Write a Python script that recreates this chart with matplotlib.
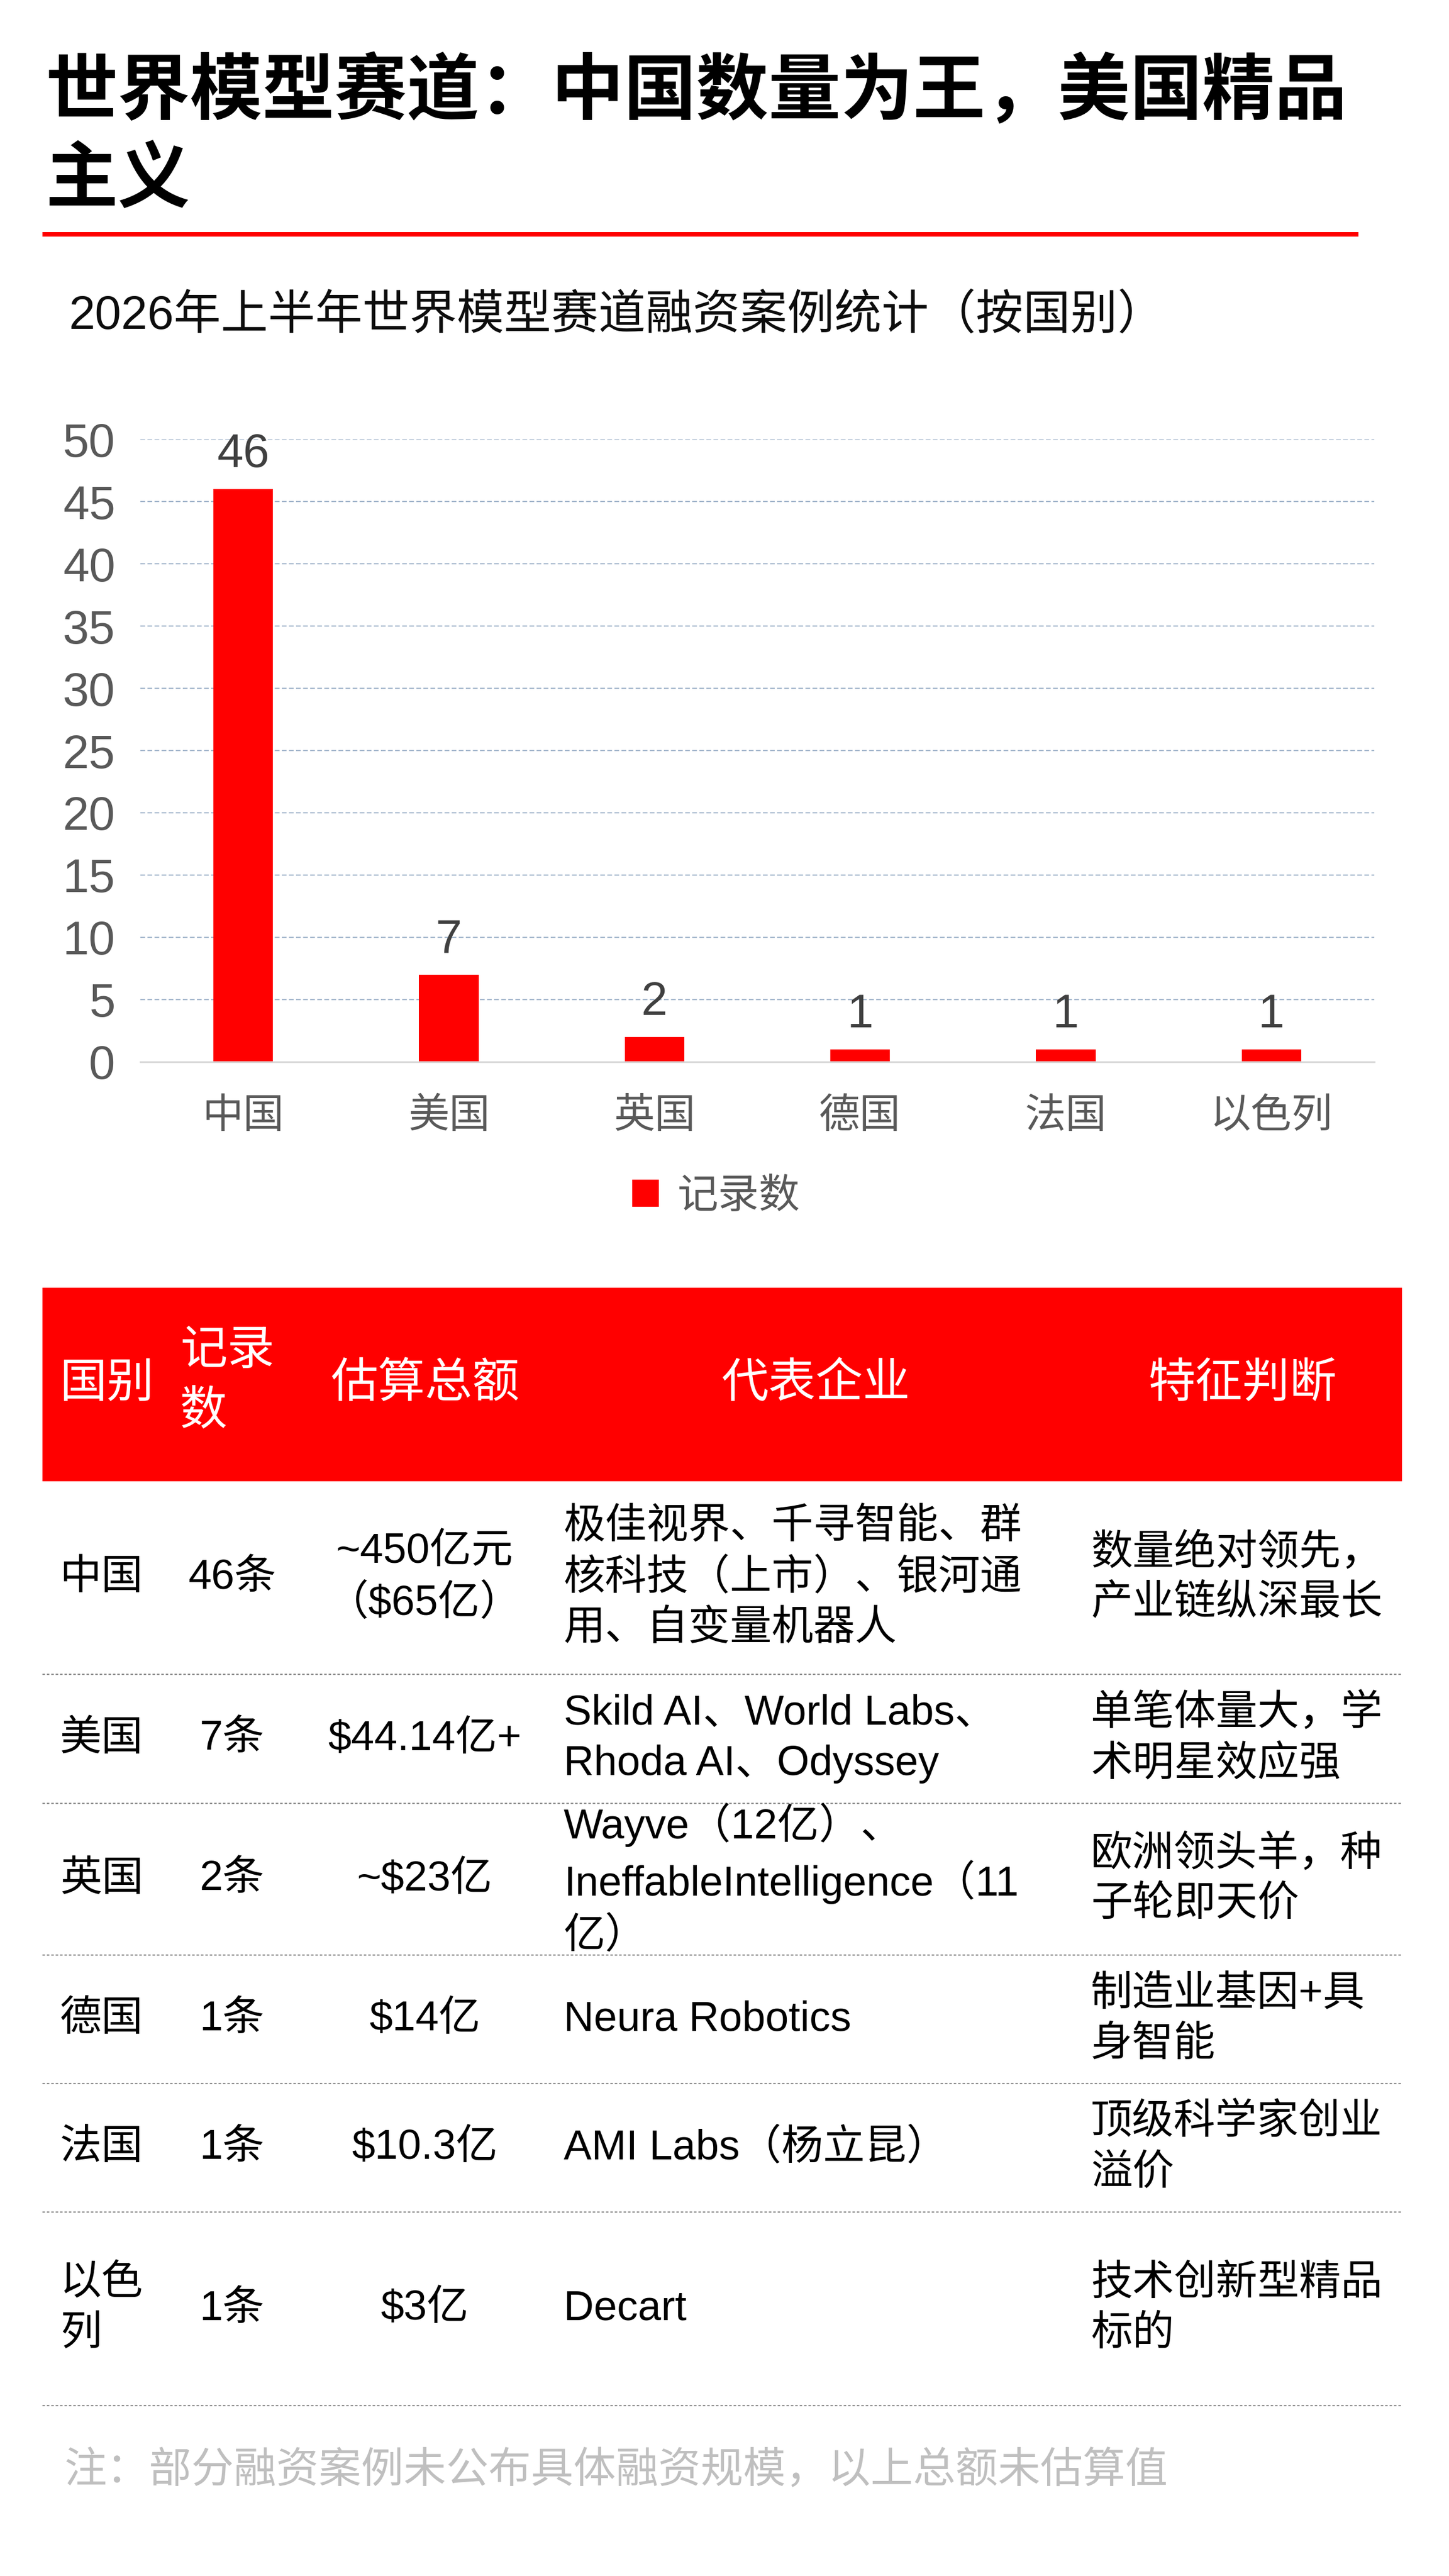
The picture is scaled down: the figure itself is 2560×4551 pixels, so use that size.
import matplotlib
matplotlib.use("Agg")
import matplotlib.pyplot as plt
from matplotlib.patches import Rectangle

plt.rcParams['font.family'] = ['Liberation Sans', 'Noto Sans CJK SC', 'DejaVu Sans']

# ---- data ----
countries = ['中国', '美国', '英国', '德国', '法国', '以色列']
counts = [46, 7, 2, 1, 1, 1]

table_header = ['国别', '记录\n数', '估算总额', '代表企业', '特征判断']
col_country = ['中国', '美国', '英国', '德国', '法国', '以色\n列']
col_records = ['46条', '7条', '2条', '1条', '1条', '1条']
col_amount = ['~450亿元\n（$65亿）', '$44.14亿+', '~$23亿', '$14亿', '$10.3亿', '$3亿']
col_companies = ['极佳视界、千寻智能、群\n核科技（上市）、银河通\n用、自变量机器人',
                 'Skild AI、World Labs、\nRhoda AI、Odyssey',
                 'Wayve（12亿）、\nIneffableIntelligence（11\n亿）',
                 'Neura Robotics',
                 'AMI Labs（杨立昆）',
                 'Decart']
col_traits = ['数量绝对领先，\n产业链纵深最长',
              '单笔体量大，学\n术明星效应强',
              '欧洲领头羊，种\n子轮即天价',
              '制造业基因+具\n身智能',
              '顶级科学家创业\n溢价',
              '技术创新型精品\n标的']

title = '世界模型赛道：中国数量为王，美国精品\n主义'
subtitle = '2026年上半年世界模型赛道融资案例统计（按国别）'
footnote = '注：部分融资案例未公布具体融资规模，以上总额未估算值'

RED = '#FF0000'
W, H = 2560, 4551

fig = plt.figure(figsize=(W / 100, H / 100), dpi=100)
fig.patch.set_facecolor('white')

# full-page layer in pixel coordinates
bg = fig.add_axes([0, 0, 1, 1])
bg.set_xlim(0, W)
bg.set_ylim(H, 0)
bg.axis('off')

bg.text(80, 242, title, fontsize=92, fontweight='heavy', color='black',
        ha='left', va='center', linespacing=1.37)
bg.add_patch(Rectangle((75, 410), 2325, 8, color=RED, lw=0))
bg.text(122, 558, subtitle, fontsize=60, color='#0D0D0D', ha='left', va='center')

# ---- bar chart ----
ax = fig.add_axes([248 / W, 1 - 1876 / H, 2180 / W, 1100 / H])
bars = ax.bar(range(len(countries)), counts, width=0.29, color=RED, label='记录数', zorder=3)
ax.set_xlim(-0.5, len(countries) - 0.5)
ax.set_ylim(0, 50)
ax.set_yticks(range(0, 51, 5))
ax.set_xticks(range(len(countries)))
ax.set_xticklabels(countries)
ax.tick_params(axis='y', length=0, pad=32, labelsize=60, labelcolor='#595959')
ax.tick_params(axis='x', length=0, pad=46, labelsize=52, labelcolor='#595959')
ax.yaxis.grid(True, linestyle=(0, (4, 2)), color='#A3B6CC', linewidth=1.5, zorder=0)
ax.set_axisbelow(True)
for s in ['top', 'right', 'left']:
    ax.spines[s].set_visible(False)
ax.spines['bottom'].set_color('#D9D9D9')
ax.spines['bottom'].set_linewidth(2.2)
ax.spines['bottom'].set_zorder(4)
ax.bar_label(bars, padding=16, fontsize=60, color='#404040')

fig.legend(handles=[bars], labels=['记录数'], loc='center',
           bbox_to_anchor=(1265 / W, 1 - 2115 / H), frameon=False,
           fontsize=52, labelcolor='#595959', handlelength=0.65,
           handleheight=0.65, handletextpad=0.45)

# ---- table ----
bg.add_patch(Rectangle((75, 2275), 2402, 342, color=RED, lw=0))
head_y = 2446
bg.text(106, head_y, table_header[0], fontsize=60, color='white', ha='left', va='center')
bg.text(318, head_y - 5, table_header[1], fontsize=60, color='white', ha='left', va='center',
        linespacing=1.45)
bg.text(751, head_y, table_header[2], fontsize=60, color='white', ha='center', va='center')
bg.text(1441, head_y, table_header[3], fontsize=60, color='white', ha='center', va='center')
bg.text(2196, head_y, table_header[4], fontsize=60, color='white', ha='center', va='center')

row_edges = [2617, 2958, 3186, 3454, 3681, 3908, 4250]
body = dict(fontsize=53, color='black', va='center', linespacing=1.38)
for i in range(len(col_country)):
    yc = (row_edges[i] + row_edges[i + 1]) / 2
    bg.text(106, yc, col_country[i], ha='left', **body)
    bg.text(410, yc, col_records[i], ha='center', **body)
    bg.text(750, yc, col_amount[i], ha='center', multialignment='center', **body)
    bg.text(996, yc, col_companies[i], ha='left', **body)
    bg.text(1927, yc, col_traits[i], ha='left', **body)
    bg.plot([75, 2477], [row_edges[i + 1]] * 2, color='#8C8C8C',
            linewidth=1.6, linestyle=(0, (2, 1.5)))

bg.text(114, 4365, footnote, fontsize=54, color='#BFBFBF', ha='left', va='center')

fig.savefig('out.png', dpi=100)
